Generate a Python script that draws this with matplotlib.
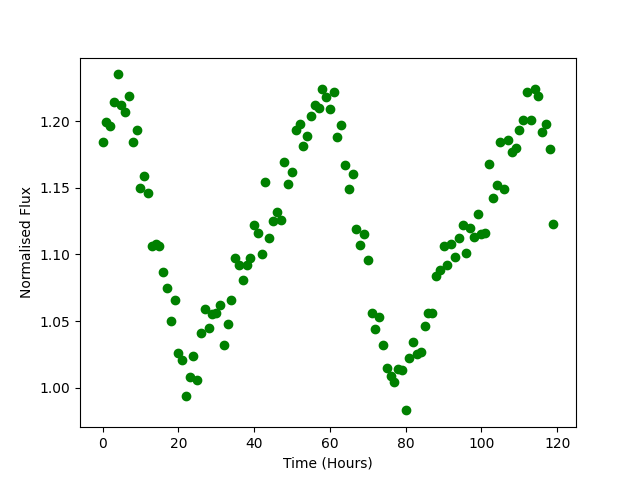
import numpy as np
import matplotlib
matplotlib.use('Agg')
import matplotlib.pyplot as plt

#Time in hours, one reading per hour
time_hours = np.arange(120)

#Normalised flux
flux = [1.184, 1.199, 1.196, 1.214, 1.235, 1.212, 1.207, 1.219, 1.184, 1.193,
        1.150, 1.159, 1.146, 1.106, 1.108, 1.106, 1.087, 1.075, 1.050, 1.066,
        1.026, 1.021, 0.994, 1.008, 1.024, 1.006, 1.041, 1.059, 1.045, 1.055,
        1.056, 1.062, 1.032, 1.048, 1.066, 1.097, 1.092, 1.081, 1.092, 1.097,
        1.122, 1.116, 1.100, 1.154, 1.112, 1.125, 1.132, 1.126, 1.169, 1.153,
        1.162, 1.193, 1.198, 1.181, 1.189, 1.204, 1.212, 1.210, 1.224, 1.218,
        1.209, 1.222, 1.188, 1.197, 1.167, 1.149, 1.160, 1.119, 1.107, 1.115,
        1.096, 1.056, 1.044, 1.053, 1.032, 1.015, 1.009, 1.004, 1.014, 1.013,
        0.983, 1.022, 1.034, 1.025, 1.027, 1.046, 1.056, 1.056, 1.084, 1.088,
        1.106, 1.092, 1.108, 1.098, 1.112, 1.122, 1.101, 1.120, 1.113, 1.130,
        1.115, 1.116, 1.168, 1.142, 1.152, 1.184, 1.149, 1.186, 1.177, 1.180,
        1.193, 1.201, 1.222, 1.201, 1.224, 1.219, 1.192, 1.198, 1.179, 1.123]

plt.figure(figsize=(6.4, 4.8), dpi=100)
plt.plot(time_hours, flux, 'go')
plt.xlabel('Time (Hours)')
plt.ylabel('Normalised Flux')
plt.savefig('out.png')
